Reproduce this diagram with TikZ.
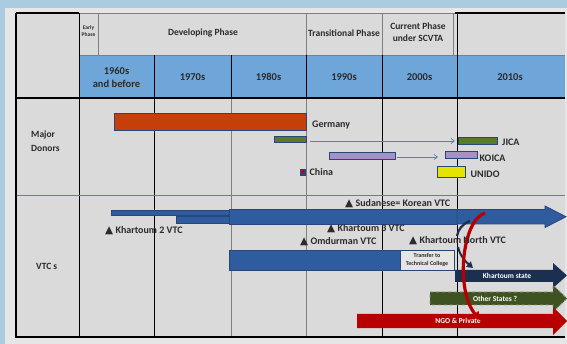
\documentclass[tikz,border=0pt]{standalone}
\usepackage{fontspec}
\setmainfont{Carlito}
\newfontfamily\dejavu{DejaVu Sans}
\usetikzlibrary{arrows.meta}
\definecolor{outerblue}{HTML}{A9CCE0}
\definecolor{pagegray}{HTML}{E6E6E6}
\definecolor{cellgray}{HTML}{DADADA}
\definecolor{hdrblue}{HTML}{6FA6D9}
\definecolor{gridgray}{HTML}{7F7F7F}
\definecolor{navyb}{HTML}{2A4678}
\definecolor{orangeb}{HTML}{C63E0A}
\definecolor{greenb}{HTML}{5A7A2A}
\definecolor{purpleb}{HTML}{A690C8}
\definecolor{yellowb}{HTML}{E4E400}
\definecolor{vtcblue}{HTML}{2E5C9E}
\definecolor{khnavy}{HTML}{1B3050}
\definecolor{othgreen}{HTML}{3E5222}
\definecolor{redb}{HTML}{B80000}
\definecolor{txt}{HTML}{2B2B2B}
\definecolor{thinblue}{HTML}{5A80B0}
\newcommand\tri{{\dejavu\fontsize{10.5}{10}\selectfont ▲}}
\tikzset{
  lbl/.style={font=\bfseries\fontsize{10}{12}\selectfont, text=txt, inner sep=0pt},
  hdr/.style={font=\bfseries\fontsize{9.5}{11.5}\selectfont, text=txt, inner sep=0pt, align=center},
  yr/.style={font=\bfseries\fontsize{10.5}{13}\selectfont, text=txt, inner sep=0pt, align=center},
  inarrow/.style={font=\bfseries\fontsize{7.5}{8}\selectfont, text=white, inner sep=0pt},
  bar/.style={draw=navyb, line width=1pt},
  vbar/.style={fill=vtcblue, draw=navyb, line width=0.8pt},
  grid/.style={line width=0.7pt},
}
\begin{document}
\begin{tikzpicture}[x=1pt,y=-1pt]
\useasboundingbox (0,0) rectangle (567,344);
\fill[outerblue] (0,0) rectangle (567,344);
\fill[pagegray] (5,8) rectangle (567,344);
\fill[cellgray] (16,13) rectangle (565,337);
\fill[hdrblue] (79,55) rectangle (565,98);
% header lines
\draw[gridgray,grid] (79,55) -- (565,55);
\draw[gridgray,grid] (98,13) -- (98,55);
\draw[gridgray,grid] (306,13) -- (306,55);
\draw[gridgray,grid] (382,13) -- (382,55);
\draw[gridgray,grid] (453,13) -- (453,55);
\draw[gridgray,grid] (16,13) -- (455,13);
\draw[black,line width=1.2pt] (455,13) -- (565,13);
\draw[black,line width=1.2pt] (16,13) -- (79,13);
% column lines
\draw[black,grid] (79,13) -- (79,337);
\draw[black,grid] (154,55) -- (154,337);
\draw[black,grid] (231,55) -- (231,98);
\draw[gridgray,grid] (231,98) -- (231,337);
\draw[black,grid] (306,55) -- (306,98);
\draw[gridgray,grid] (306,98) -- (306,337);
\draw[black,grid] (382,55) -- (382,337);
\draw[black,line width=1pt] (457,13) -- (457,337);
% row lines
\draw[black,line width=1.3pt] (16,98) -- (565,98);
\draw[thinblue,line width=0.6pt] (16,195) -- (565,195);
\draw[black,line width=1.2pt] (16,13) -- (16,337) -- (565,337);
% header texts
\node[font=\bfseries\fontsize{5.5}{6.5}\selectfont, text=txt, align=center, inner sep=0pt] (early) at (88.5,31) {Early\\Phase};
\node[hdr] (dev) at (203,33) {Developing Phase};
\node[hdr] (trans) at (344,33) {Transitional Phase};
\node[hdr] (curr) at (418,32) {Current Phase\\under SCVTA};
\node[yr] (y60) at (116.5,77) {1960s\\and before};
\node[yr] (y70) at (192.5,77) {1970s};
\node[yr] (y80) at (268.5,77) {1980s};
\node[yr] (y90) at (344,77) {1990s};
\node[yr] (y00) at (419.5,77) {2000s};
\node[yr] (y10) at (510,77) {2010s};
% row labels
\node[lbl, anchor=west, align=left, font=\bfseries\fontsize{9.5}{13.5}\selectfont] (donors) at (31,141) {Major\\Donors};
\node[lbl, anchor=west, font=\bfseries\fontsize{9.5}{11}\selectfont] (vtcs) at (36,266) {VTC s};
% donors
\draw[bar, fill=orangeb] (114,114) rectangle (306,131);
\node[lbl, anchor=west] (germany) at (312,125) {Germany};
\draw[bar, fill=greenb] (274,137) rectangle (306,143);
\draw[bar, fill=greenb] (458,138) rectangle (497,145);
\coordinate (jicaA) at (310,141);
\coordinate (jicaB) at (455,141);
\draw[thinblue, line width=0.7pt, -{Straight Barb[length=3.5pt,width=5pt]}] (jicaA) -- (jicaB);
\node[lbl, anchor=west] (jica) at (502,142.5) {JICA};
\draw[bar, fill=purpleb] (329,153) rectangle (395,160);
\draw[bar, fill=purpleb] (445,152) rectangle (477,159);
\coordinate (koiA) at (397,157);
\coordinate (koiB) at (438,157);
\draw[thinblue, line width=0.7pt, -{Straight Barb[length=3.5pt,width=5pt]}] (koiA) -- (koiB);
\node[lbl, anchor=west] (koica) at (479.5,158.5) {KOICA};
\draw[navyb, line width=0.8pt, fill=navyb] (300,169) rectangle (305,175);
\fill[redb] (301.5,170.5) rectangle (303.5,173.5);
\node[lbl, anchor=west] (china) at (309.5,172.5) {China};
\draw[bar, fill=yellowb] (437,167) rectangle (465,178);
\node[lbl, anchor=west] (unido) at (470.5,174.5) {UNIDO};
% VTC bars
\draw[vbar] (111,210) rectangle (229,215);
\draw[vbar] (176,216) rectangle (229,223);
\draw[vbar] (229,209.5) rectangle (457,224);
\draw[vbar] (457,209.5) -- (545,209.5) -- (545,206) -- (566,216.75) -- (545,227.5) -- (545,224) -- (457,224) -- cycle;
\draw[vbar] (229,250) rectangle (400,270);
\node[draw=navyb, line width=0.9pt, fill=cellgray!70!white, minimum width=54pt, minimum height=20pt, inner sep=0pt, align=center, font=\bfseries\fontsize{6}{8}\selectfont, text=txt] (transfer) at (427,260) {Transfer to\\Technical College};
% block arrows
\fill[khnavy] (455,270) -- (553,270) -- (553,263) -- (567,275.5) -- (553,288) -- (553,282) -- (455,282) -- cycle;
\node[inarrow] (khs) at (507,276) {Khartoum state};
\draw[othgreen!40!gray!70!white, dashed, line width=0.8pt, fill=othgreen] (430,292) -- (553,292) -- (553,285) -- (567,298.5) -- (553,312) -- (553,305) -- (430,305) -- cycle;
\node[inarrow] (oth) at (495,298.5) {Other States ?};
\fill[redb] (357,314) -- (553,314) -- (553,307) -- (567,321) -- (553,335) -- (553,328) -- (357,328) -- cycle;
\node[inarrow] (ngo) at (458,321) {NGO \& Private};
% curved arrows
\coordinate (nv1a) at (470,221);
\coordinate (nv1b) at (457,236);
\draw[khnavy, line width=2.2pt] (nv1a) .. controls (462,224) and (458,230) .. (nv1b);
\coordinate (nv2a) at (458,247);
\coordinate (nv2b) at (473,268);
\draw[khnavy, line width=2pt, -{Triangle[length=6pt,width=7pt]}] (nv2a) .. controls (460,256) and (466,262) .. (nv2b);
\coordinate (rdA) at (485,213);
\coordinate (rdB) at (480,320);
\draw[redb, line width=3.2pt, -{Triangle[length=8pt,width=9pt]}] (rdA) .. controls (462,220) and (455,290) .. (rdB);
% VTC labels
\node[lbl, anchor=west] (kor) at (345,204) {\tri\ Sudanese= Korean VTC};
\node[lbl, anchor=west] (k2) at (105,231) {\tri\ Khartoum 2 VTC};
\node[lbl, anchor=west] (k3) at (327,229) {\tri\ Khartoum 3 VTC};
\node[lbl, anchor=west] (omd) at (300,242) {\tri\ Omdurman VTC};
\node[lbl, anchor=west] (kn) at (409,241) {\tri\ Khartoum North VTC};
\end{tikzpicture}
\end{document}
